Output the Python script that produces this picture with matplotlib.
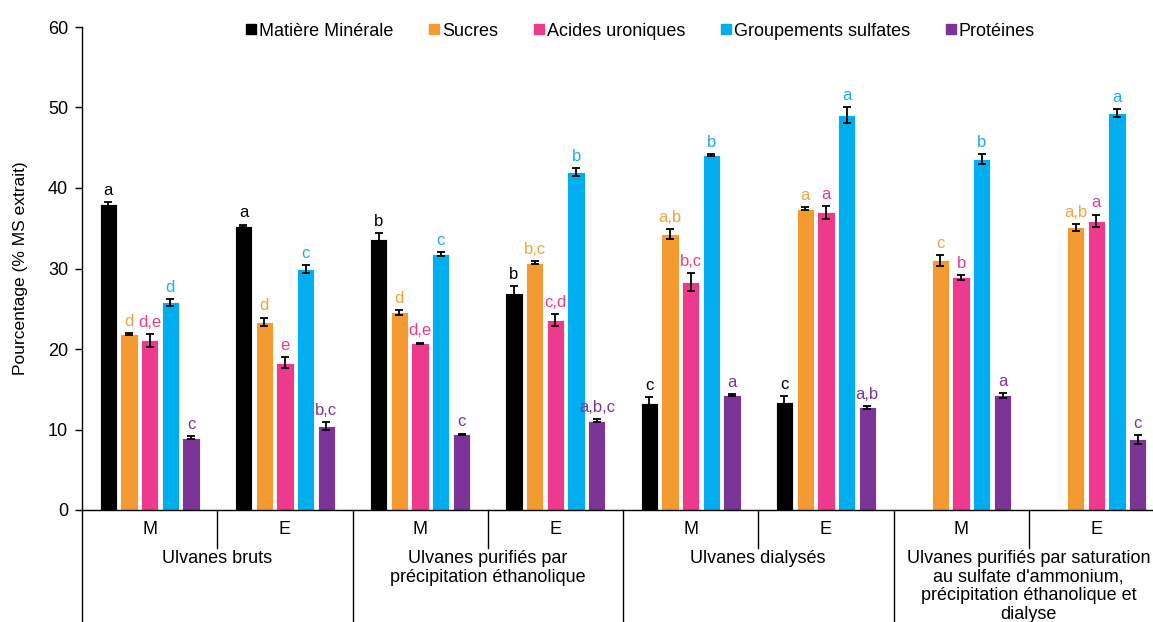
import numpy as np
import matplotlib
matplotlib.use("Agg")
import matplotlib.pyplot as plt
from matplotlib.lines import Line2D
import matplotlib.transforms as mtransforms

plt.rcParams['font.family'] = ['Liberation Sans', 'DejaVu Sans']

# Data
series = ["Matière Minérale", "Sucres", "Acides uroniques", "Groupements sulfates", "Protéines"]
sub_labels = ["M", "E", "M", "E", "M", "E", "M", "E"]
group_labels = ["Ulvanes bruts",
                "Ulvanes purifiés par\nprécipitation éthanolique",
                "Ulvanes dialysés",
                "Ulvanes purifiés par saturation\nau sulfate d'ammonium,\nprécipitation éthanolique et\ndialyse"]

mineral = [38.0, 35.3, 33.7, 26.9, 13.25, 13.45, np.nan, np.nan]
mineral_err = [0.2, 0.15, 0.7, 0.95, 0.75, 0.75, 0, 0]
sucres = [21.9, 23.4, 24.55, 30.7, 34.3, 37.45, 31.0, 35.1]
sucres_err = [0.1, 0.5, 0.3, 0.2, 0.6, 0.2, 0.65, 0.4]
uroniques = [21.1, 18.3, 20.7, 23.6, 28.3, 37.0, 28.9, 35.9]
uroniques_err = [0.8, 0.65, 0.1, 0.7, 1.1, 0.8, 0.3, 0.8]
sulfates = [25.8, 29.9, 31.8, 42.0, 44.1, 49.1, 43.6, 49.3]
sulfates_err = [0.4, 0.5, 0.25, 0.5, 0.1, 1.0, 0.6, 0.5]
proteines = [9.0, 10.4, 9.4, 11.1, 14.3, 12.75, 14.25, 8.8]
proteines_err = [0.2, 0.5, 0.1, 0.2, 0.1, 0.2, 0.3, 0.55]

letters_mineral = ["a", "a", "b", "b", "c", "c", "", ""]
letters_sucres = ["d", "d", "d", "b,c", "a,b", "a", "c", "a,b"]
letters_uroniques = ["d,e", "e", "d,e", "c,d", "b,c", "a", "b", "a"]
letters_sulfates = ["d", "c", "c", "b", "b", "a", "b", "a"]
letters_proteines = ["c", "b,c", "c", "a,b,c", "a", "a,b", "a", "c"]

values = [mineral, sucres, uroniques, sulfates, proteines]
errors = [mineral_err, sucres_err, uroniques_err, sulfates_err, proteines_err]
letters = [letters_mineral, letters_sucres, letters_uroniques, letters_sulfates, letters_proteines]
colors = ["#000000", "#F39A30", "#EE3A8C", "#00AEEF", "#7B3596"]
letter_colors = ["#000000", "#F5A33F", "#EE3A8C", "#1BAEE8", "#7B3596"]

fig = plt.figure(figsize=(11.53, 6.22), dpi=100)
ax = fig.add_axes([82 / 1153, 112 / 622, 1082 / 1153, 483 / 622])

x = np.arange(8) + 0.5
pitch = 0.153
width = 0.128
for i in range(5):
    xs = x + (i - 2) * pitch
    v = np.array(values[i], dtype=float)
    e = np.array(errors[i], dtype=float)
    ax.bar(xs, v, width=width, color=colors[i], edgecolor="white", linewidth=0.6, zorder=2)
    ok = ~np.isnan(v)
    ax.errorbar(xs[ok], v[ok], yerr=e[ok], fmt="none", ecolor="black",
                elinewidth=1.3, capsize=3.2, capthick=1.3, zorder=3)
    for xi, vi, ei, lab in zip(xs, v, e, letters[i]):
        if np.isnan(vi) or not lab:
            continue
        ax.annotate(lab, (xi, vi + ei), xytext=(0, 3), textcoords="offset points",
                    ha="center", va="bottom", fontsize=12, color=letter_colors[i])

ax.set_xlim(0, 8)
ax.set_ylim(0, 60)
ax.set_yticks(np.arange(0, 61, 10))
ax.tick_params(axis="y", labelsize=13, direction="out", length=5, width=1, pad=5)
ax.set_xticks([])
ax.spines["top"].set_visible(False)
ax.spines["right"].set_visible(False)
ax.spines["left"].set_linewidth(1)
ax.spines["bottom"].set_linewidth(1)
ax.set_ylabel("Pourcentage (% MS extrait)", fontsize=12.5, labelpad=14)

# Category axis below
trans = mtransforms.blended_transform_factory(ax.transData, ax.transAxes)
ax_h = 483.0
for xm in [1, 3, 5, 7]:
    ax.add_line(Line2D([xm, xm], [0, -38 / ax_h], transform=trans, color="black",
                       linewidth=1, clip_on=False))
for xm in [0, 2, 4, 6, 8]:
    ax.add_line(Line2D([xm, xm], [0, -0.3], transform=trans, color="black",
                       linewidth=1, clip_on=False))
for xi, lab in zip(x, sub_labels):
    ax.text(xi, -19 / ax_h, lab, transform=trans, ha="center", va="center", fontsize=13)
for g, lab in enumerate(group_labels):
    ax.text(2 * g + 1, -40 / ax_h, lab, transform=trans, ha="center", va="top",
            fontsize=13, linespacing=1.12)

handles = [Line2D([], [], marker="s", linestyle="none", markersize=6.5,
                  markerfacecolor=c, markeredgecolor=c) for c in colors]
fig.legend(handles, series, loc="center", bbox_to_anchor=(640 / 1153, 1 - 31 / 622),
           ncol=5, frameon=False, fontsize=13, handlelength=0.6,
           handletextpad=0.15, columnspacing=1.95, borderaxespad=0)

fig.savefig("out.png", dpi=100)
